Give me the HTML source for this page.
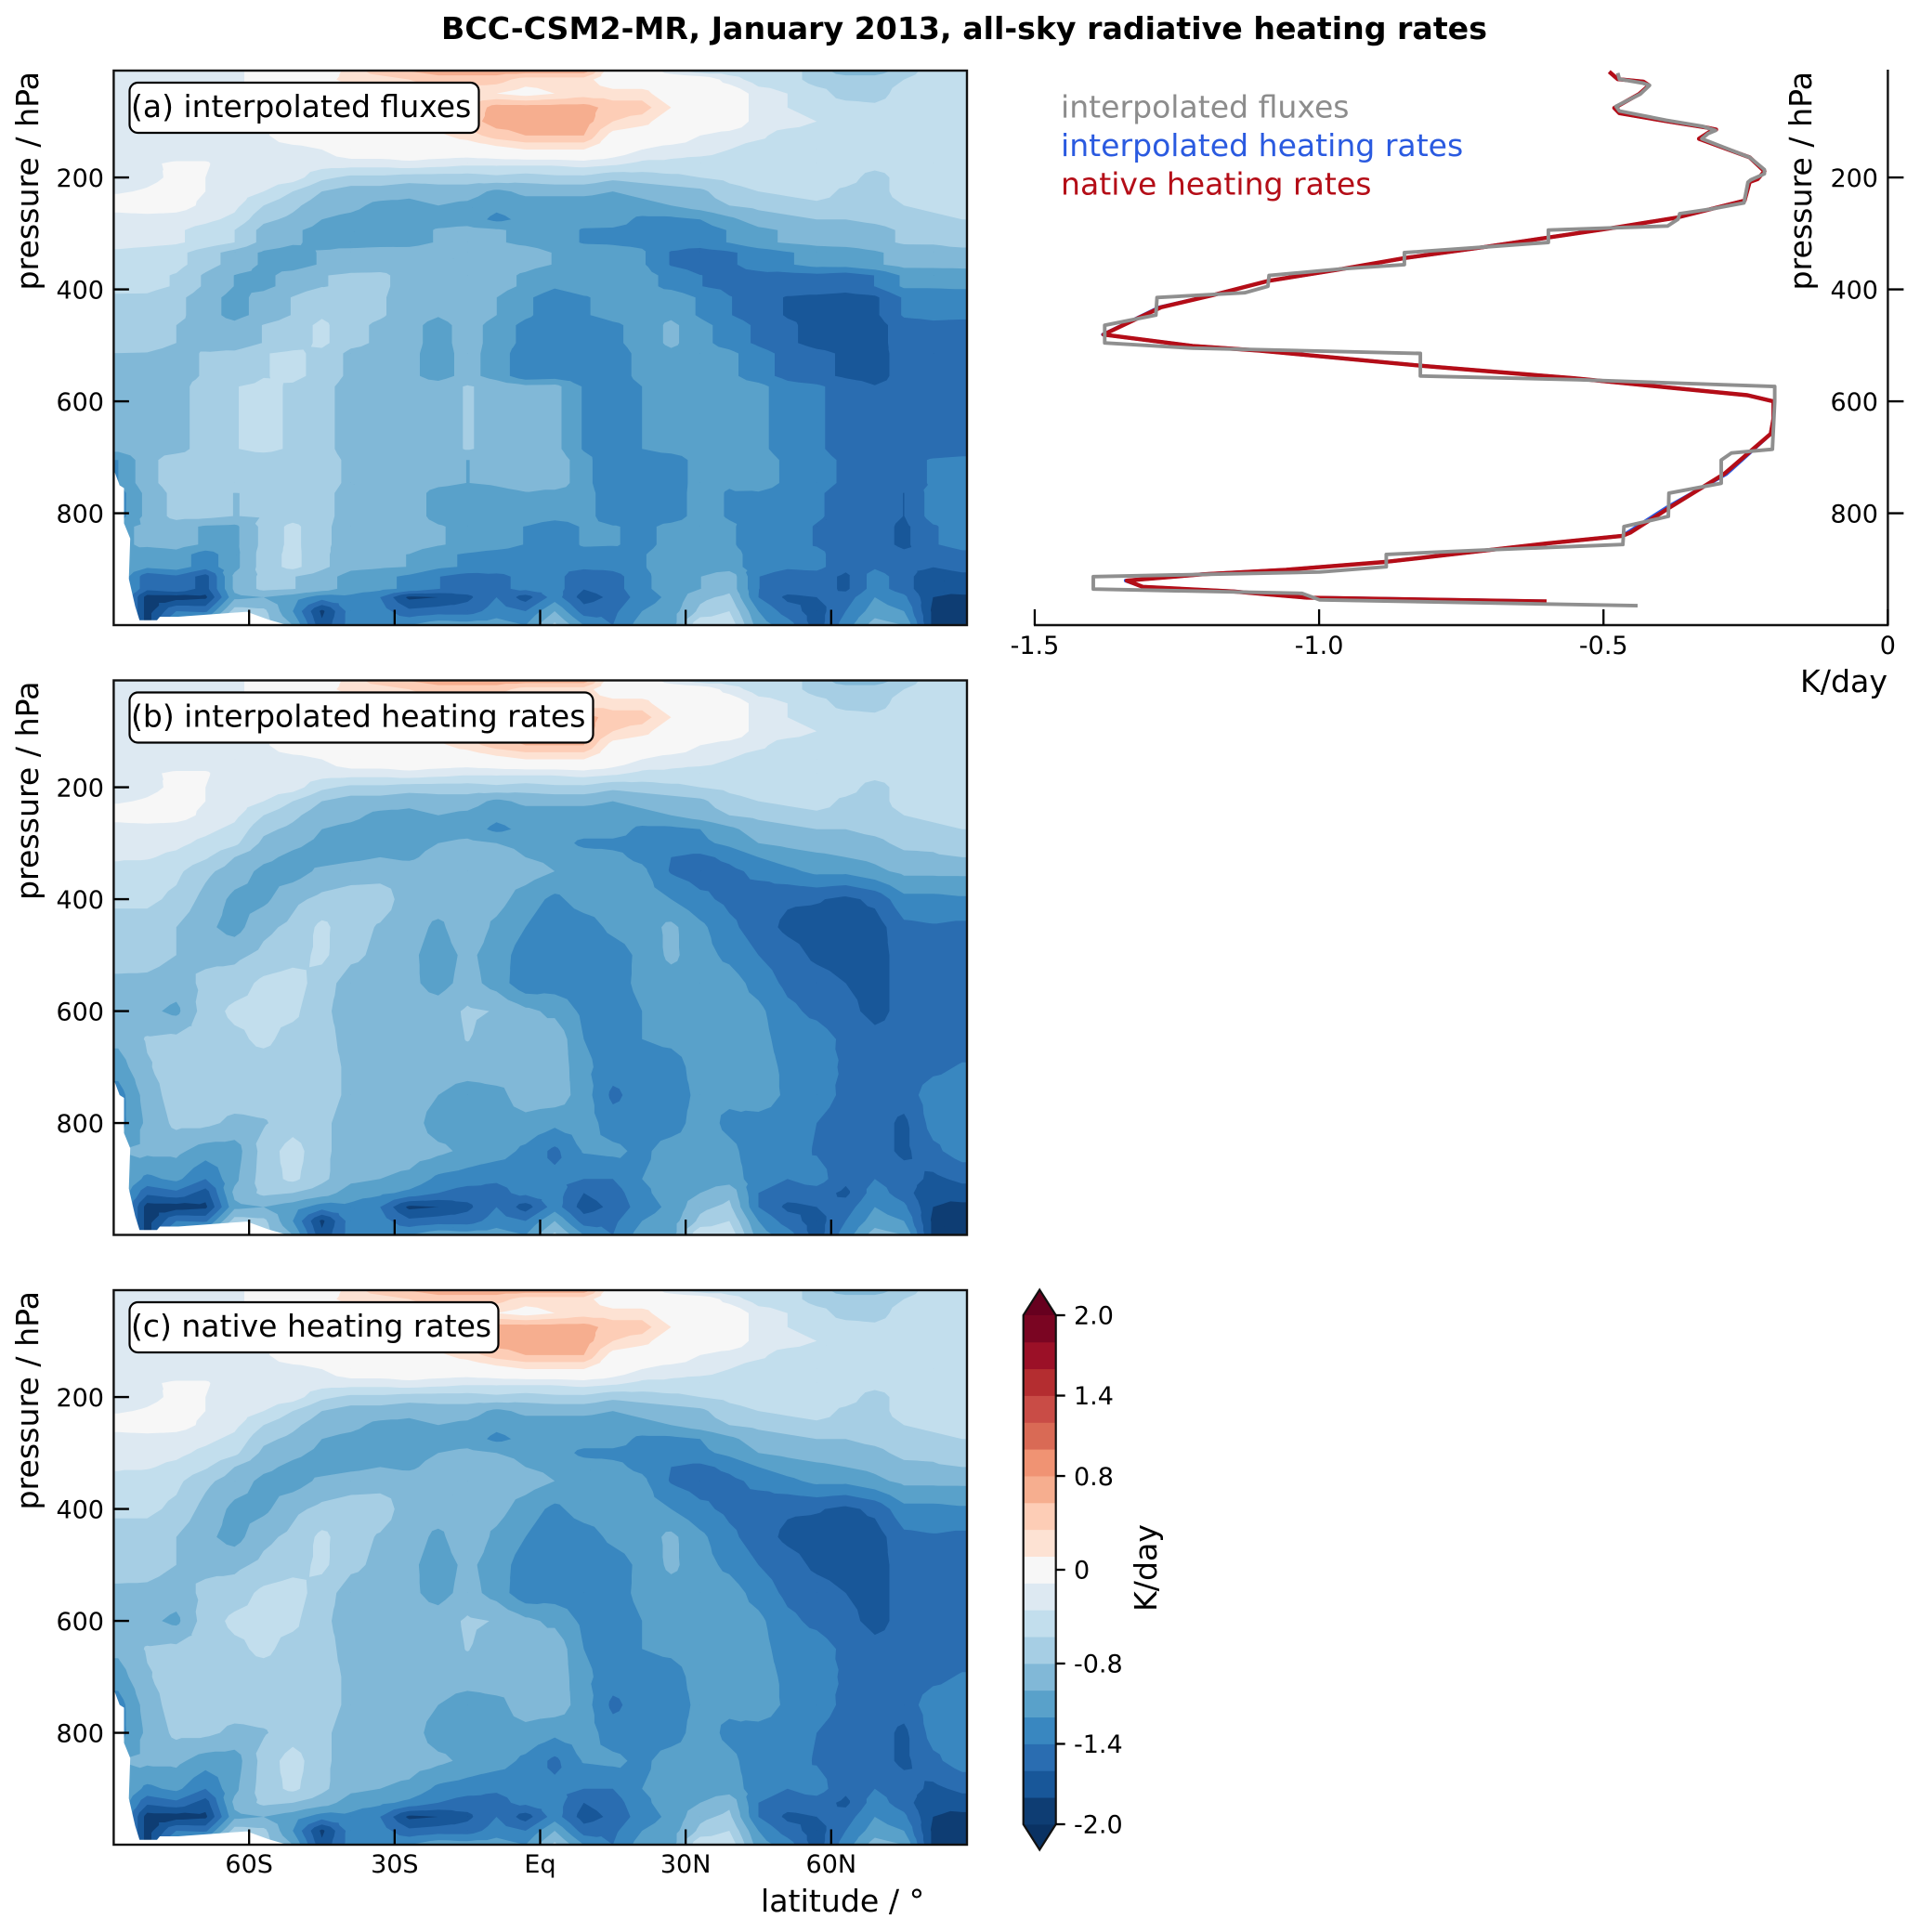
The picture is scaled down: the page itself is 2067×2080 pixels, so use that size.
<!DOCTYPE html>
<html lang="en">
<head>
<meta charset="utf-8">
<title>BCC-CSM2-MR, January 2013, all-sky radiative heating rates</title>
<style>
html,body{margin:0;padding:0;background:#fff;}
svg{display:block;}
text{font-family:"DejaVu Sans","Liberation Sans",sans-serif;fill:#000;}
</style>
</head>
<body>
<svg id="figure" xmlns="http://www.w3.org/2000/svg" width="2067" height="2080" viewBox="0 0 2067 2080">
  <rect x="0" y="0" width="2067" height="2080" fill="#fff"/>
  <text x="1038" y="42" text-anchor="middle" font-size="33.2" font-weight="bold">BCC-CSM2-MR, January 2013, all-sky radiative heating rates</text>
  <g id="panels"></g>
  <g id="profile"></g>
  <g id="colorbar"></g>
  <text x="1142" y="126.5" font-size="33.1" style="fill:#8c8c8c">interpolated fluxes</text>
  <text x="1142" y="168" font-size="33.1" style="fill:#2a5ae0">interpolated heating rates</text>
  <text x="1142" y="209.5" font-size="33.1" style="fill:#b40d17">native heating rates</text>
</svg>
<script>
/* ---------- data ---------- */
const latitudes = [-87,-81,-75,-69,-63,-57,-51,-45,-39,-33,-27,-21,-15,-9,-3,3,9,15,21,27,33,39,45,51,57,63,69,75,81,87];
const pressureLevels = [10,25,50,75,100,125,150,175,200,225,250,275,300,325,350,400,450,500,550,600,650,700,750,800,850,900,925,950,975,1000];
const nativeField = [
[-.3,-.3,-.3,-.3,-.3,0,0,0,.3,.5,.6,.7,.7,.7,.7,.7,.7,0,0,-.3,-.5,-.5,-.5,-.5,-.7,-.9,-.9,-.7,-.5,-.5],
[-.3,-.3,-.3,-.3,-.3,0,0,.1,.3,.3,.4,.5,.5,.5,.3,.3,.3,0,0,0,0,-.3,-.5,-.5,-.7,-.7,-.7,-.6,-.5,-.5],
[-.3,-.3,-.3,-.3,-.3,0,0,0,0,.3,.3,.3,.3,.2,.1,.2,.3,.3,.3,0,0,0,-.3,-.4,-.5,-.7,-.7,-.5,-.5,-.5],
[-.3,-.3,-.3,-.3,-.3,0,0,0,0,.2,.3,.3,.4,.7,.7,.7,.7,.5,.5,.2,0,0,-.3,-.4,-.5,-.5,-.55,-.5,-.5,-.5],
[-.3,-.3,-.3,-.3,-.3,-.25,0,0,0,0,.1,.3,.5,.7,.7,.7,.7,.4,.3,0,0,0,-.3,-.3,-.4,-.5,-.5,-.5,-.5,-.5],
[-.3,-.3,-.3,-.3,-.3,-.25,0,0,0,0,0,.15,.3,.5,.6,.6,.6,.1,0,0,-.2,-.3,-.35,-.5,-.5,-.5,-.5,-.5,-.5,-.5],
[-.3,-.3,-.3,-.3,-.3,-.3,-.3,-.2,0,0,0,0,0,.1,.2,.2,.2,0,-.2,-.3,-.3,-.4,-.5,-.5,-.5,-.5,-.5,-.5,-.5,-.5],
[-.3,-.22,-.18,-.18,-.3,-.3,-.3,-.3,-.3,-.3,-.25,-.3,-.35,-.35,-.35,-.35,-.3,-.35,-.45,-.45,-.5,-.5,-.5,-.5,-.5,-.5,-.5,-.5,-.5,-.5],
[-.3,-.25,-.16,-.2,-.3,-.3,-.3,-.55,-.65,-.65,-.7,-.7,-.7,-.65,-.7,-.65,-.65,-.75,-.7,-.65,-.6,-.55,-.5,-.5,-.5,-.5,-.7,-.5,-.5,-.5],
[-.22,-.18,-.12,-.2,-.3,-.4,-.6,-.8,-.9,-.9,-.95,-.9,-.9,-1.05,-.95,-.95,-.95,-1,-.95,-.9,-.85,-.67,-.6,-.55,-.5,-.65,-.7,-.5,-.5,-.5],
[-.1,-.05,-.1,-.25,-.35,-.6,-.75,-.92,-.95,-1.05,-1.05,-1,-1.05,-1.15,-1.1,-1.1,-1.1,-1.1,-1.05,-1,-.9,-.8,-.75,-.7,-.65,-.65,-.7,-.6,-.55,-.5],
[-.3,-.3,-.3,-.35,-.45,-.75,-.85,-1,-1.05,-1.1,-1.1,-1.1,-1.1,-1.25,-1.15,-1.1,-1.1,-1.1,-1.25,-1.25,-1.2,-1.05,-.9,-.85,-.8,-.8,-.75,-.7,-.65,-.6],
[-.32,-.33,-.35,-.45,-.55,-.85,-.95,-1.05,-1.1,-1.1,-1.1,-1,-.95,-1,-1.05,-1.1,-1.25,-1.25,-1.25,-1.3,-1.25,-1.15,-1,-.95,-.9,-.88,-.85,-.75,-.75,-.65],
[-.38,-.38,-.45,-.57,-.8,-.95,-1.05,-1.1,-1.05,-1,-1.05,-.9,-.9,-.9,-1,-1.05,-1.1,-1.15,-1.25,-1.4,-1.45,-1.35,-1.2,-1.1,-1.05,-1,-.95,-.85,-.83,-.8],
[-.45,-.5,-.55,-.75,-.9,-1.05,-1.1,-.95,-.9,-.88,-.85,-.82,-.8,-.9,-.9,-1,-1.05,-1.1,-1.15,-1.42,-1.5,-1.45,-1.35,-1.25,-1.15,-1.15,-1.05,-.95,-.95,-.95],
[-.55,-.55,-.65,-.87,-1.05,-1.05,-.85,-.75,-.7,-.7,-.9,-.88,-.9,-.92,-1.1,-1.25,-1.1,-1.1,-1.1,-1.2,-1.35,-1.45,-1.5,-1.57,-1.58,-1.65,-1.55,-1.26,-1.26,-1.23],
[-.7,-.7,-.8,-.95,-1.08,-.85,-.75,-.55,-.72,-.82,-.9,-1.05,-.85,-1.05,-1.2,-1.35,-1.3,-1.15,-1.1,-.95,-1.15,-1.35,-1.5,-1.65,-1.7,-1.7,-1.7,-1.45,-1.42,-1.45],
[-.7,-.72,-.8,-.85,-.85,-.75,-.68,-.55,-.75,-.85,-.95,-1.1,-.95,-1.1,-1.3,-1.3,-1.35,-1.3,-1.15,-.95,-1.12,-1.25,-1.4,-1.5,-1.65,-1.7,-1.7,-1.5,-1.45,-1.45],
[-.85,-.85,-.9,-.75,-.7,-.55,-.5,-.7,-.9,-.9,-.95,-1.08,-.92,-1.08,-1.35,-1.3,-1.3,-1.28,-1.15,-1.1,-1.1,-1.1,-1.28,-1.45,-1.5,-1.6,-1.65,-1.55,-1.55,-1.45],
[-.9,-.95,-1.05,-.7,-.55,-.55,-.55,-.75,-.9,-.9,-.9,-.9,-.77,-.81,-.95,-1.05,-1.25,-1.3,-1.2,-1.1,-1.1,-1.1,-1.15,-1.35,-1.45,-1.55,-1.65,-1.55,-1.55,-1.55],
[-.95,-.78,-.75,-.72,-.65,-.55,-.68,-.7,-.9,-.9,-.9,-.9,-.79,-.9,-.95,-.85,-1.2,-1.3,-1.2,-1.15,-1.1,-1.1,-1.12,-1.3,-1.3,-1.45,-1.55,-1.55,-1.55,-1.5],
[-1.1,-.82,-.7,-.7,-.68,-.7,-.7,-.7,-.85,-.9,-.9,-.9,-.9,-.9,-.95,-.85,-1.15,-1.3,-1.3,-1.3,-1.1,-1.2,-1.1,-1.25,-1.35,-1.42,-1.5,-1.5,-1.45,-1.38],
[-1.3,-.9,-.7,-.7,-.7,-.7,-.7,-.7,-.85,-.9,-.9,-1,-1.1,-1.05,-.92,-.88,-1.1,-1.45,-1.3,-1.3,-1.15,-1.15,-1.05,-1.25,-1.3,-1.45,-1.5,-1.5,-1.3,-1.3],
[-1.3,-.95,-.75,-.75,-.85,-.82,-.7,-.75,-.9,-.9,-.9,-1.1,-1.1,-1.05,-1.05,-1.15,-1.1,-1.3,-1.3,-1.3,-1.1,-1.25,-1.3,-1.3,-1.4,-1.5,-1.5,-1.65,-1.32,-1.3],
[-1,-.95,-.95,-1.1,-1.1,-.72,-.5,-.75,-.9,-.9,-.9,-.95,-1.05,-1.1,-1.25,-1.45,-1.18,-1.15,-1.25,-1.1,-1.1,-1.15,-1.3,-1.3,-1.42,-1.5,-1.5,-1.65,-1.45,-1.3],
[-1,-1.25,-1.15,-1.4,-1.05,-.7,-.55,-.75,-.95,-1,-1.05,-1.25,-1.3,-1.38,-1.35,-1.35,-1.4,-1.4,-1.2,-1.12,-1.1,-1.1,-1.3,-1.4,-1.3,-1.55,-1.4,-1.5,-1.65,-1.55],
[-1,-1.55,-1.45,-1.7,-.95,-.75,-.8,-.9,-1.1,-1.15,-1.25,-1.4,-1.5,-1.45,-1.35,-1.3,-1.6,-1.5,-1.25,-1.1,-1,-.85,-1.4,-1.5,-1.5,-1.65,-1.3,-1.5,-1.8,-1.7],
[-1,-1.9,-1.9,-1.85,-1.05,-1,-1.1,-1.3,-1.25,-1.4,-1.85,-1.8,-1.65,-1.4,-1.7,-1.3,-1.7,-1.55,-1.3,-1.15,-.85,-.75,-1.4,-1.65,-1.6,-1.5,-1.2,-1.35,-1.8,-1.85],
[-1,-1.9,-1.4,-1.45,-.7,-.75,-1.2,-1.85,-1.3,-1.3,-1.55,-1.5,-1.5,-1.3,-1.4,-1,-1.5,-1.45,-1.2,-1.1,-.75,-.6,-1.2,-1.5,-1.7,-1.4,-1.1,-1.2,-1.85,-1.8],
[-1,-1.9,-1,-.6,-.7,-.7,-1,-1.75,-1.3,-1.25,-1.2,-1.05,-1.1,-1.1,-1.2,-.75,-1.2,-1.4,-1.1,-1.1,-.4,-.45,-1.1,-1.3,-1.7,-1.3,-.9,-1,-1.85,-1.85]
];
const fluxLayerTop = [293.9,334.3,375,414.4,464,514.4,573.5,705,764,824,873.5,913];
const fluxLayerBottom = [316,355.8,394.5,445.9,495.6,554.7,685,746,805,856,895.6,935];
const surfaceLat = [-88,-86.7,-85.8,-85.8,-84.5,-84.8,-83.5,-82.6,-79,-78.4,-74.6,-60.5,-56,-51.6,-88];
const surfaceP = [722,750,755,818,845,917,966,991,991,985,985,976,990,1001,1001];

const levels = [-2,-1.8,-1.6,-1.4,-1.2,-1,-.8,-.6,-.4,-.2,.2,.4,.6,.8,1,1.2,1.4,1.6,1.8,2];
const bandColors = ['#0a3263','#0e3d73','#185799','#2a6db1','#3987c0','#59a1ca','#81b8d7','#a6cee4','#c2deed','#dde9f2','#f7f7f7','#fde2d3','#fdcdb6','#f6ae8f','#f09373','#d96a55','#c94c46','#b42d30','#9b1027','#7a0522','#67001f'];
const colorbarTicks = [-2,-1.4,-.8,0,.8,1.4,2];
const colorbarTickLabels = ['-2.0','-1.4','-0.8','0','0.8','1.4','2.0'];

const pressureTicks = [200,400,600,800];
const latTicks = [-60,-30,0,30,60];
const latTickLabels = ['60S','30S','Eq','30N','60N'];
const profileTicks = [-1.5,-1,-.5,0];
const profileTickLabels = ['-1.5','-1.0','-0.5','0'];

const fluxValues = [-.475,-.472,-.43,-.419,-.435,-.478,-.472,-.389,-.325,-.303,-.316,-.327,-.243,-.217,-.217,-.241,-.246,-.253,-.311,-.366,-.369,-.387,-.597,-.597,-.71,-.85,-.85,-.957,-1.088,-1.09,-1.131,-1.285,-1.287,-1.377,-1.377,-1.223,-.822,-.822,-.545,-.199,-.199,-.203,-.275,-.293,-.293,-.385,-.386,-.464,-.466,-.701,-.882,-.882,-.999,-1.397,-1.397,-1.03,-.999,-.44];
const fluxPressure = [13.3,24.3,31.5,35.4,50.8,72.9,81.2,97.8,108.8,116,121.5,130.9,164,186,193.4,204.4,208.3,245.3,256.4,264.6,274.6,286.7,293.9,316,324.3,334.3,355.8,363,375.1,394.5,406,414.4,445.9,464.1,495.6,505,514.4,554.7,561.3,573.5,600,685.6,692.3,705,746.4,764,805.5,823.8,855.8,865.2,873.5,895.6,905,913.2,935.4,943.1,954.7,965.2];
const nativeValues = [-.49,-.475,-.43,-.42,-.437,-.481,-.472,-.389,-.32,-.302,-.314,-.332,-.243,-.217,-.229,-.243,-.252,-.371,-.472,-.6,-.71,-.847,-.957,-1.09,-1.186,-1.278,-1.324,-1.379,-1.223,-1.104,-.82,-.554,-.247,-.201,-.201,-.206,-.288,-.385,-.453,-.467,-.6,-.884,-1.058,-1.205,-1.338,-1.31,-1.15,-1.022,-.6];
const nativePressure = [11,24.3,28.7,35.4,50.8,75.7,85,99.4,110.5,114.4,118.8,130.9,164,189,202.8,208,241.4,271.8,288.4,307.7,324.3,343.6,363,385,410,432,454,480.7,501,509.4,536.5,558.6,589,600,630,658,729.8,790.6,834.8,840.3,854,887,901,909,920.4,931.5,939.8,950.8,957.5];
const interpValues = [-.49,-.475,-.43,-.42,-.437,-.481,-.472,-.389,-.32,-.302,-.314,-.332,-.243,-.217,-.229,-.243,-.252,-.371,-.472,-.6,-.71,-.847,-.957,-1.09,-1.186,-1.281,-1.325,-1.38,-1.223,-1.104,-.82,-.554,-.247,-.201,-.201,-.206,-.284,-.39,-.458,-.467,-.6,-.884,-1.058,-1.205,-1.34,-1.31,-1.15,-1.022,-.6];
const interpPressure = [11,24.3,28.7,35.4,50.8,75.7,85,99.4,110.5,114.4,118.8,130.9,164,189,202.8,208,241.4,271.8,288.4,307.7,324.3,343.6,363,385,410,432,454,480.7,501,509.4,536.5,558.6,589,600,630,658,729.8,790.6,834.8,840.3,854,887,901,909,920.4,931.5,939.8,950.8,957.5];

/* ---------- layout and axis functions ---------- */
const SVGNS = 'http://www.w3.org/2000/svg';
const PANEL_LEFT = 122.4, PANEL_RIGHT = 1041, PANEL_H = 597;
const panelTops = [76, 732.5, 1389];
const latX = lat => 581.5 + lat * 5.222;
const pressY = (top, p) => top + (p - 9) * 0.6025;
const profileX = v => 2032.4 + v * 612.3;
const profileBottom = 673;
const CB_LEFT = 1101.7, CB_RIGHT = 1136.7, CB_TOP = 1416, CB_BOTTOM = 1964;

function make(tag, parent, attrs, content) {
  const el = document.createElementNS(SVGNS, tag);
  for (const k in attrs) el.setAttribute(k, attrs[k]);
  if (content !== undefined) el.textContent = content;
  parent.appendChild(el);
  return el;
}

/* ---------- field sampling ---------- */
function sampleRow(p) {
  let j = 0;
  while (j < pressureLevels.length - 2 && pressureLevels[j + 1] < p) j++;
  const t = (p - pressureLevels[j]) / (pressureLevels[j + 1] - pressureLevels[j]);
  return nativeField[j].map((v, i) => v + (nativeField[j + 1][i] - v) * t);
}
function fluxRows() {
  const rows = [], vals = [];
  pressureLevels.forEach((p, j) => { if (p < 285) { rows.push(p); vals.push(nativeField[j]); } });
  fluxLayerTop.forEach((top, k) => {
    const bottom = fluxLayerBottom[k];
    const mid = sampleRow((top + bottom) / 2);
    rows.push(top); vals.push(mid);
    rows.push(bottom); vals.push(mid);
  });
  pressureLevels.forEach((p, j) => { if (p >= 950) { rows.push(p); vals.push(nativeField[j]); } });
  return { rows, vals };
}

function clipAbove(tri, L) {
  const out = [];
  for (let i = 0; i < 3; i++) {
    const a = tri[i], b = tri[(i + 1) % 3];
    const ina = a[2] >= L, inb = b[2] >= L;
    if (ina) out.push(a);
    if (ina !== inb) {
      const t = (L - a[2]) / (b[2] - a[2]);
      out.push([a[0] + (b[0] - a[0]) * t, a[1] + (b[1] - a[1]) * t, L]);
    }
  }
  return out;
}

function drawField(group, top, rows, vals) {
  const xs = [PANEL_LEFT].concat(latitudes.map(latX), [PANEL_RIGHT]);
  const ys = [top].concat(rows.map(p => pressY(top, p)), [top + PANEL_H]);
  const grid = [vals[0]].concat(vals, [vals[vals.length - 1]]).map(r => [r[0]].concat(r, [r[r.length - 1]]));
  const tris = [];
  for (let j = 0; j < ys.length - 1; j++) {
    for (let i = 0; i < xs.length - 1; i++) {
      const a = [xs[i], ys[j], grid[j][i]], b = [xs[i + 1], ys[j], grid[j][i + 1]];
      const c = [xs[i + 1], ys[j + 1], grid[j + 1][i + 1]], d = [xs[i], ys[j + 1], grid[j + 1][i]];
      const m = [(a[0] + b[0]) / 2, (a[1] + d[1]) / 2, (a[2] + b[2] + c[2] + d[2]) / 4];
      tris.push([a, b, m], [b, c, m], [c, d, m], [d, a, m]);
    }
  }
  const base = make('rect', group, { x: PANEL_LEFT, y: top, width: PANEL_RIGHT - PANEL_LEFT, height: PANEL_H, fill: bandColors[0] });
  
  
  levels.forEach((L, k) => {
    let d = '';
    for (const t of tris) {
      const poly = clipAbove(t, L);
      if (poly.length >= 3) {
        d += 'M' + poly.map(q => q[0].toFixed(1) + ' ' + q[1].toFixed(1)).join('L') + 'Z';
      }
    }
    if (d) {
      const band = make('path', group, { d: d, fill: bandColors[k + 1], 'fill-rule': 'nonzero' });
      
      
    }
  });
}

function drawPanel(idx, label, boxWidth, rows, vals, showXLabels) {
  const root = document.getElementById('panels');
  const top = panelTops[idx];
  const g = make('g', root, {});
  
  
  drawField(g, top, rows, vals);

  const pts = surfaceLat.map((lat, i) => {
    const x = Math.max(PANEL_LEFT, latX(lat));
    return x.toFixed(1) + ',' + pressY(top, surfaceP[i]).toFixed(1);
  }).join(' ');
  const mask = make('polygon', g, { points: pts, fill: '#fff' });
  
  

  const frame = make('rect', g, { x: PANEL_LEFT, y: top, width: PANEL_RIGHT - PANEL_LEFT, height: PANEL_H, fill: 'none', stroke: '#111', 'stroke-width': 2.4 });
  
  

  pressureTicks.forEach(p => {
    const y = pressY(top, p);
    const tick = make('line', g, { x1: PANEL_LEFT, x2: PANEL_LEFT + 16.5, y1: y, y2: y, stroke: '#000', 'stroke-width': 2.3 });
    
    
    const lab = make('text', g, { x: 112, y: y + 9.7, 'text-anchor': 'end', 'font-size': 27 }, String(p));
    
    
  });
  latTicks.forEach((lat, i) => {
    const x = latX(lat), b = top + PANEL_H;
    const tick = make('line', g, { x1: x, x2: x, y1: b, y2: b - 16.5, stroke: '#000', 'stroke-width': 2.3 });
    
    
    if (showXLabels) {
      const lab = make('text', g, { x: x, y: b + 30, 'text-anchor': 'middle', 'font-size': 27 }, latTickLabels[i]);
      
      
    }
  });

  const yl = make('text', g, { transform: 'translate(41,' + (top + 1) + ') rotate(-90)', 'text-anchor': 'end', 'font-size': 33.2 }, 'pressure / hPa');
  
  

  const box = make('rect', g, { x: 139.5, y: top + 13, width: boxWidth, height: 54, rx: 9, ry: 9, fill: '#fff', stroke: '#000', 'stroke-width': 2.2 });
  
  
  const txt = make('text', g, { x: 141, y: top + 50, 'font-size': 33 }, label);
  
  
}

const flux = fluxRows();
drawPanel(0, '(a) interpolated fluxes', 376, flux.rows, flux.vals, false);
drawPanel(1, '(b) interpolated heating rates', 499, pressureLevels, nativeField, false);
drawPanel(2, '(c) native heating rates', 397, pressureLevels, nativeField, true);

const xTitle = make('text', document.getElementById('panels'), { x: 819, y: 2058, 'font-size': 33.2 }, 'latitude / °');



/* ---------- profile panel ---------- */
(function () {
  const g = document.getElementById('profile');
  const top = panelTops[0];
  function line(values, pressures, color, width, name) {
    const pts = values.map((v, i) => profileX(v).toFixed(1) + ',' + pressY(top, pressures[i]).toFixed(1)).join(' ');
    const pl = make('polyline', g, { points: pts, fill: 'none', stroke: color, 'stroke-width': width, 'stroke-linejoin': 'round' });
    
    
  }
  line(interpValues, interpPressure, '#2a5ae0', 4, 'interpolated-heating-rates-line');
  line(nativeValues, nativePressure, '#b40d17', 4.4, 'native-heating-rates-line');
  line(fluxValues, fluxPressure, '#8f8f8f', 3.9, 'interpolated-fluxes-line');

  const sb = make('line', g, { x1: profileX(-1.5) - 1, x2: profileX(0) + 1, y1: profileBottom, y2: profileBottom, stroke: '#111', 'stroke-width': 2.4 });
  
  
  const sr = make('line', g, { x1: profileX(0), x2: profileX(0), y1: 75, y2: profileBottom, stroke: '#111', 'stroke-width': 2.4 });
  
  

  profileTicks.forEach((v, i) => {
    const x = profileX(v);
    const tick = make('line', g, { x1: x, x2: x, y1: profileBottom, y2: profileBottom - 17, stroke: '#000', 'stroke-width': 2.3 });
    
    
    const lab = make('text', g, { x: x, y: 704, 'text-anchor': 'middle', 'font-size': 27 }, profileTickLabels[i]);
    
    
  });
  pressureTicks.forEach(p => {
    const y = pressY(top, p);
    const tick = make('line', g, { x1: profileX(0), x2: profileX(0) + 17, y1: y, y2: y, stroke: '#000', 'stroke-width': 2.3 });
    
    
    const lab = make('text', g, { x: 2022, y: y + 9.7, 'text-anchor': 'end', 'font-size': 27 }, String(p));
    
    
  });
  const yl = make('text', g, { transform: 'translate(1950,' + (top + 1) + ') rotate(-90)', 'text-anchor': 'end', 'font-size': 33.2 }, 'pressure / hPa');
  
  
  const xl = make('text', g, { x: 2032, y: 745, 'text-anchor': 'end', 'font-size': 33.2 }, 'K/day');
  
  
})();

/* ---------- colorbar ---------- */
(function () {
  const g = document.getElementById('colorbar');
  const n = levels.length - 1;
  const cbY = v => {
    let i = 0;
    while (i < n - 1 && levels[i + 1] < v) i++;
    const t = (v - levels[i]) / (levels[i + 1] - levels[i]);
    return CB_BOTTOM - (i + t) * (CB_BOTTOM - CB_TOP) / n;
  };
  const mid = (CB_LEFT + CB_RIGHT) / 2;
  const under = make('polygon', g, { points: CB_LEFT + ',' + CB_BOTTOM + ' ' + CB_RIGHT + ',' + CB_BOTTOM + ' ' + mid + ',1991.5', fill: bandColors[0] });
  
  
  const over = make('polygon', g, { points: CB_LEFT + ',' + CB_TOP + ' ' + CB_RIGHT + ',' + CB_TOP + ' ' + mid + ',1388.5', fill: bandColors[bandColors.length - 1] });
  
  
  for (let k = 0; k < n; k++) {
    const y1 = cbY(levels[k + 1]), y0 = cbY(levels[k]);
    const seg = make('rect', g, { x: CB_LEFT, y: y1, width: CB_RIGHT - CB_LEFT, height: y0 - y1 + 0.4, fill: bandColors[k + 1] });
    
    
  }
  const outline = make('polygon', g, {
    points: [[CB_LEFT, CB_TOP], [mid, 1388.5], [CB_RIGHT, CB_TOP], [CB_RIGHT, CB_BOTTOM], [mid, 1991.5], [CB_LEFT, CB_BOTTOM]].map(q => q.join(',')).join(' '),
    fill: 'none', stroke: '#111', 'stroke-width': 2.2
  });
  
  
  colorbarTicks.forEach((v, i) => {
    const y = cbY(v);
    const tick = make('line', g, { x1: CB_RIGHT, x2: CB_RIGHT + 10, y1: y, y2: y, stroke: '#000', 'stroke-width': 2.3 });
    
    
    const lab = make('text', g, { x: 1156, y: y + 9.7, 'font-size': 27 }, colorbarTickLabels[i]);
    
    
  });
  const title = make('text', g, { transform: 'translate(1245,1688) rotate(-90)', 'text-anchor': 'middle', 'font-size': 33.2 }, 'K/day');
  
  
})();
</script>
</body>
</html>
